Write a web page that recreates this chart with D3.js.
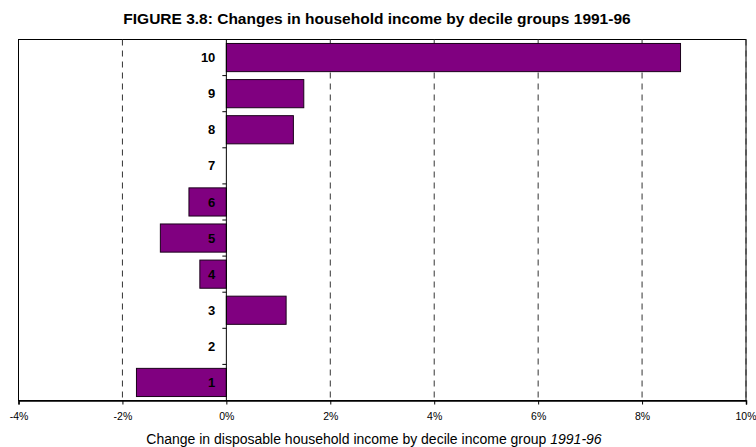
<!DOCTYPE html>
<html>
<head>
<meta charset="utf-8">
<script src="https://cdn.jsdelivr.net/npm/d3@7"></script>
<style>
  body { margin: 0; background: #fff; }
  text { font-family: Arial, "Liberation Sans", sans-serif; }
</style>
</head>
<body>
<div id="chart"></div>
<script>
// decile groups, top of chart first
var deciles = ["10", "9", "8", "7", "6", "5", "4", "3", "2", "1"];
// percentage change in disposable income 1991-96
var changes = [8.74, 1.49, 1.29, 0, -0.72, -1.27, -0.51, 1.15, 0, -1.73];
var xTicks = [-4, -2, 0, 2, 4, 6, 8, 10];

var margin = {top: 39.5, right: 10, bottom: 46.5, left: 18.5},
    width = 756 - margin.left - margin.right,
    height = 447 - margin.top - margin.bottom;

var svg = d3.select("#chart")
  .append("svg")
    .attr("width", 756)
    .attr("height", 447);

// title
svg.append("text")
  .attr("x", 377)
  .attr("y", 24)
  .attr("text-anchor", "middle")
  .style("font-size", "15.5px")
  .style("font-weight", "bold")
  .text("FIGURE 3.8:  Changes in household income by decile groups 1991-96");

var g = svg.append("g")
  .attr("transform", "translate(" + margin.left + "," + margin.top + ")");

var x = d3.scaleLinear()
  .domain([-4, 10])
  .range([0, width]);

var y = d3.scaleBand()
  .domain(deciles)
  .range([0, height])
  .paddingInner(0.22)
  .paddingOuter(0.11);

// plot border
g.append("rect")
  .attr("width", width)
  .attr("height", height)
  .attr("fill", "none")
  .attr("stroke", "#000")
  .attr("stroke-width", 1);

// dashed gridlines
g.selectAll(".grid")
  .data(xTicks.filter(function(d) { return d !== 0 && d !== -4; }))
  .enter().append("line")
    .attr("x1", function(d) { return x(d); })
    .attr("x2", function(d) { return x(d); })
    .attr("y1", 0)
    .attr("y2", height)
    .attr("stroke", "#333")
    .attr("stroke-dasharray", "6,5");

// bars
var data = deciles.map(function(d, i) { return {group: d, value: changes[i]}; });
g.selectAll(".bar")
  .data(data.filter(function(d) { return d.value !== 0; }))
  .enter().append("rect")
    .attr("x", function(d) { return x(Math.min(0, d.value)); })
    .attr("y", function(d) { return y(d.group); })
    .attr("width", function(d) { return Math.abs(x(d.value) - x(0)); })
    .attr("height", y.bandwidth())
    .attr("fill", "#800080")
    .attr("stroke", "#1a001a")
    .attr("stroke-width", 1);

// zero axis with small ticks between groups
g.append("line")
  .attr("x1", x(0)).attr("x2", x(0))
  .attr("y1", 0).attr("y2", height)
  .attr("stroke", "#000");
g.selectAll(".ytick")
  .data(d3.range(1, deciles.length))
  .enter().append("line")
    .attr("x1", x(0) - 4).attr("x2", x(0))
    .attr("y1", function(i) { return i * height / deciles.length; })
    .attr("y2", function(i) { return i * height / deciles.length; })
    .attr("stroke", "#000");

// category labels
g.selectAll(".ylab")
  .data(deciles)
  .enter().append("text")
    .attr("x", x(0) - 11)
    .attr("y", function(d) { return y(d) + y.bandwidth() / 2; })
    .attr("dy", "0.35em")
    .attr("text-anchor", "end")
    .style("font-size", "13px")
    .style("font-weight", "bold")
    .text(function(d) { return d; });

// bottom axis
var xAxis = g.append("g")
  .attr("transform", "translate(0," + height + ")")
  .call(d3.axisBottom(x).tickValues(xTicks).tickSize(4).tickPadding(8)
    .tickFormat(function(d) { return d + "%"; }));
xAxis.select(".domain").attr("stroke", "#000").attr("stroke-width", 1.5);
xAxis.selectAll("text")
  .style("font-family", "Arial, 'Liberation Sans', sans-serif")
  .style("font-size", "10.5px")
  .attr("fill", "#000");
// keep the last label inside the window
xAxis.selectAll(".tick").filter(function(d) { return d === 10; })
  .select("text").attr("text-anchor", "end").attr("x", 10);

// axis title
var t = svg.append("text")
  .attr("x", 374)
  .attr("y", 444)
  .attr("text-anchor", "middle")
  .style("font-size", "14px");
t.append("tspan").text("Change in disposable household income by decile income group ");
t.append("tspan").style("font-style", "italic").text("1991-96");
</script>
</body>
</html>
